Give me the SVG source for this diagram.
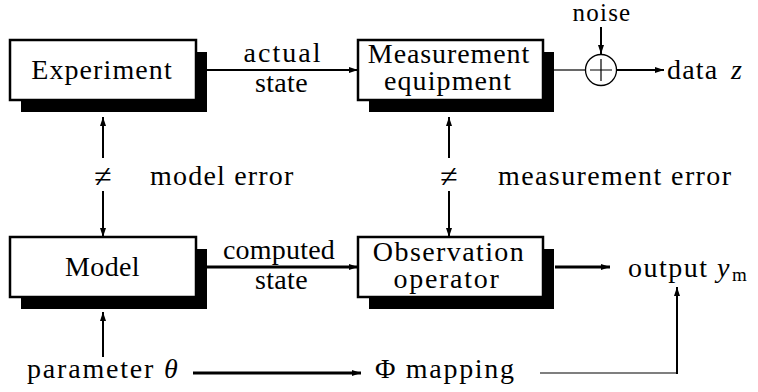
<svg xmlns="http://www.w3.org/2000/svg" width="758" height="392" viewBox="0 0 758 392">
<defs>
<marker id="ah" markerUnits="userSpaceOnUse" markerWidth="10" markerHeight="7" refX="9" refY="3.5" orient="auto">
<path d="M0,0.5 L9,3.5 L0,6.5 z" fill="#000"/>
</marker>
</defs>
<style>
.box{fill:#fff;stroke:#000;stroke-width:2.5}
.sh{fill:#000}
.c{fill:none;stroke:#000;stroke-width:2}
</style>
<rect width="758" height="392" fill="#fff"/>
<g id="experiment">
<rect class="sh" x="21" y="52" width="186" height="60"/>
<rect class="box" x="10" y="40" width="186" height="60"/>
<text font-family="Liberation Serif" font-size="28" text-anchor="middle" letter-spacing="1.1" x="102" y="79">Experiment</text>
</g>
<g id="measurement">
<rect class="sh" x="369" y="52" width="185" height="60"/>
<rect class="box" x="358" y="40" width="185" height="60"/>
<text font-family="Liberation Serif" font-size="28" text-anchor="middle" letter-spacing="0.9" x="449" y="63">Measurement</text>
<text font-family="Liberation Serif" font-size="28" text-anchor="middle" letter-spacing="1.1" x="448" y="90">equipment</text>
</g>
<g id="model">
<rect class="sh" x="21" y="249" width="186" height="60"/>
<rect class="box" x="10" y="237" width="186" height="60"/>
<text font-family="Liberation Serif" font-size="28" text-anchor="middle" letter-spacing="0.4" x="102.5" y="276">Model</text>
</g>
<g id="observation">
<rect class="sh" x="369" y="249" width="185" height="60"/>
<rect class="box" x="358" y="237" width="185" height="60"/>
<text font-family="Liberation Serif" font-size="28" text-anchor="middle" letter-spacing="1.4" x="449" y="261">Observation</text>
<text font-family="Liberation Serif" font-size="28" text-anchor="middle" letter-spacing="1.7" x="447" y="288">operator</text>
</g>
<g id="adder">
<circle cx="601" cy="70" r="15.5" fill="#fff" stroke="#000" stroke-width="1.3"/>
<path d="M601,59 V81 M590,70 H612" stroke="#000" stroke-width="1.2"/>
</g>
<g id="labels">
<text font-family="Liberation Serif" font-size="25" text-anchor="middle" letter-spacing="1.2" x="602" y="21">noise</text>
<text font-family="Liberation Serif" font-size="28" letter-spacing="1.2" x="667" y="79">data</text>
<text font-family="Liberation Serif" font-size="28" font-style="italic" x="731" y="79">z</text>
<text font-family="Liberation Serif" font-size="28" text-anchor="middle" letter-spacing="2" x="283" y="62">actual</text>
<text font-family="Liberation Serif" font-size="28" text-anchor="middle" letter-spacing="0.3" x="281.5" y="92">state</text>
<text font-family="Liberation Serif" font-size="28" text-anchor="middle" letter-spacing="0.2" x="279" y="259">computed</text>
<text font-family="Liberation Serif" font-size="28" text-anchor="middle" letter-spacing="0.3" x="281.5" y="289">state</text>
<text font-family="Liberation Serif" font-size="28" letter-spacing="1.5" x="628" y="277">output</text>
<text font-family="Liberation Serif" font-size="28" font-style="italic" x="717" y="277">y</text>
<text font-family="Liberation Serif" font-size="19" x="732" y="281">m</text>
<text font-family="Liberation Serif" font-size="32" text-anchor="middle" x="103" y="187">≠</text>
<text font-family="Liberation Serif" font-size="28" letter-spacing="1.2" x="150" y="185">model error</text>
<text font-family="Liberation Serif" font-size="32" text-anchor="middle" x="449" y="187">≠</text>
<text font-family="Liberation Serif" font-size="28" letter-spacing="1.4" x="498" y="185">measurement error</text>
<text font-family="Liberation Serif" font-size="28" letter-spacing="1.8" x="27" y="378">parameter <tspan font-style="italic">θ</tspan></text>
<text font-family="Liberation Serif" font-size="28" letter-spacing="1.7" x="375" y="378">Φ mapping</text>
</g>
<g id="connectors">
<line class="c" x1="207" y1="70" x2="358" y2="70" marker-end="url(#ah)"/>
<line class="c" stroke-width="1.2" style="stroke-width:1.2" x1="554" y1="70" x2="585.5" y2="70"/>
<line class="c" x1="601" y1="27" x2="601" y2="54" marker-end="url(#ah)"/>
<line class="c" x1="616.5" y1="70" x2="664" y2="70" marker-end="url(#ah)"/>
<line class="c" x1="103" y1="158" x2="103" y2="117" marker-end="url(#ah)"/>
<line class="c" x1="103" y1="191" x2="103" y2="237" marker-end="url(#ah)"/>
<line class="c" x1="449" y1="158" x2="449" y2="117" marker-end="url(#ah)"/>
<line class="c" x1="449" y1="191" x2="449" y2="237" marker-end="url(#ah)"/>
<line class="c" style="stroke-width:3" x1="207" y1="267" x2="358" y2="267" marker-end="url(#ah)"/>
<line class="c" style="stroke-width:3" x1="555" y1="267" x2="610" y2="267" marker-end="url(#ah)"/>
<line class="c" x1="103" y1="357" x2="103" y2="312" marker-end="url(#ah)"/>
<line class="c" style="stroke-width:3" x1="193" y1="373" x2="361" y2="373" marker-end="url(#ah)"/>
<path class="c" style="stroke-width:1.2" d="M540,373 H677"/>
<line class="c" x1="677" y1="374" x2="677" y2="287" marker-end="url(#ah)"/>
</g>
</svg>
